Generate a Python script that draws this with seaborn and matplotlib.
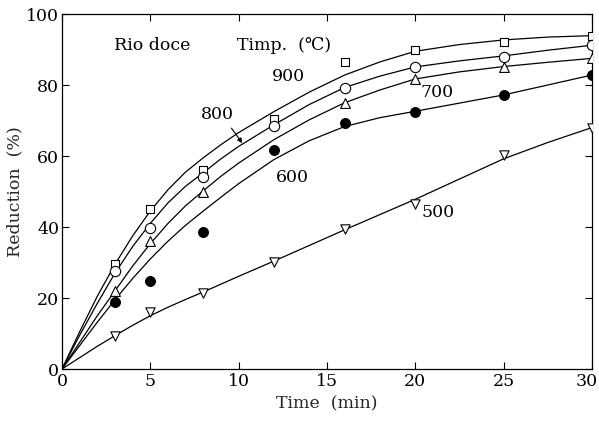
import matplotlib
matplotlib.use("Agg")
import matplotlib.pyplot as plt
import matplotlib.transforms as mtransforms
import seaborn as sns
import pandas as pd

# ---- measured points ----
t_pts = [3, 5, 8, 12, 16, 20, 25, 30]
t_pts_700 = [3, 5, 8, 16, 20, 25, 30]
pts_900 = [29.5, 45.0, 56.0, 70.3, 86.5, 89.8, 92.2, 93.8]
pts_800 = [27.5, 39.8, 54.2, 68.5, 79.3, 85.1, 88.0, 91.2]
pts_700 = [22.0, 36.2, 49.9, 75.0, 81.7, 85.2, 87.5]
pts_600 = [18.8, 24.9, 38.7, 61.7, 69.4, 72.5, 77.2, 82.8]
pts_500 = [9.4, 16.0, 21.3, 30.2, 39.3, 46.5, 60.3, 67.8]

# ---- fitted curves ----
t_curve = [0, 1, 2, 3, 4, 5, 6, 7, 8, 9, 10, 12, 14, 16, 18, 20, 22.5, 25, 27.5, 30]
curve_900 = [0, 10.5, 20.5, 29.5, 37.5, 44.5, 50.5, 55.5, 59.5, 63.2, 66.6,
             72.5, 78, 82.8, 86.5, 89.5, 91.4, 92.7, 93.5, 93.9]
curve_800 = [0, 9.5, 18.5, 27, 34.5, 41, 46.8, 51.5, 55.3, 59.2, 62.7,
             68.8, 74.5, 79.3, 82.5, 85.1, 86.8, 88.2, 89.8, 91.2]
curve_700 = [0, 7.5, 15, 22, 29, 35.3, 41, 46, 50.2, 54.3, 58,
             64.6, 70.2, 75, 78.6, 81.7, 83.7, 85.2, 86.4, 87.5]
curve_600 = [0, 6.6, 13.2, 19.5, 25.5, 31, 36, 40.5, 44.5, 48.4, 52.2,
             59, 64.3, 68.3, 70.8, 72.6, 74.9, 77.2, 80, 82.8]
curve_500 = [0, 3.2, 6.4, 9.4, 12.3, 15, 17.4, 19.6, 21.7, 23.9, 26.1,
             30.4, 34.8, 39.2, 43.5, 47.8, 53.5, 59.2, 63.8, 68]

temps = ["900", "800", "700", "600", "500"]
x_ticks = [0, 5, 10, 15, 20, 25, 30]
y_ticks = [0, 20, 40, 60, 80, 100]

sns.set_style("ticks")
plt.rcParams["font.family"] = ["DejaVu Serif"]

fig = plt.figure(figsize=(5.99, 4.21), dpi=100)
ax = fig.add_axes([0.1035, 0.1235, 0.8845, 0.8432])

curves = {"900": curve_900, "800": curve_800, "700": curve_700,
          "600": curve_600, "500": curve_500}
for k in temps:
    df = pd.DataFrame({"t": t_curve, "r": curves[k]})
    sns.lineplot(data=df, x="t", y="r", ax=ax, color="black", lw=0.9,
                 estimator=None, sort=False)

point_sets = [
    (t_pts, pts_900, "s", "white", 36),
    (t_pts, pts_800, "o", "white", 55),
    (t_pts_700, pts_700, "^", "white", 50),
    (t_pts, pts_600, "o", "black", 50),
    (t_pts, pts_500, "v", "white", 45),
]
for xs, ys, m, fc, s in point_sets:
    df = pd.DataFrame({"t": xs, "r": ys})
    sns.scatterplot(data=df, x="t", y="r", ax=ax, marker=m, s=s,
                    facecolor=fc, edgecolor="black", linewidth=0.8, zorder=3)

fs = 12.5
ax.set_xlim(0, 30)
ax.set_ylim(0, 100)
ax.set_xticks(x_ticks)
ax.set_yticks(y_ticks)
ax.tick_params(direction="in", top=True, right=True, length=5, width=0.8,
               labelsize=fs, colors="black")
ax.tick_params(axis="x", pad=3)
ax.tick_params(axis="y", pad=2)
for sp in ax.spines.values():
    sp.set_linewidth(0.9)
    sp.set_color("black")
ax.set_xlabel("Time  (min)", fontsize=fs, labelpad=4)
ax.set_ylabel("Reduction  (%)", fontsize=fs, labelpad=2)

# keep the last x tick label inside the figure edge
last = ax.get_xticklabels()[-1]
last.set_transform(last.get_transform() +
                   mtransforms.ScaledTranslation(-5 / 100, 0, fig.dpi_scale_trans))

txt = dict(fontsize=fs, color="black", ha="center", va="center")
ax.text(5.1, 91, "Rio doce", **txt)
ax.text(12.55, 91, "Timp.  (℃)", **txt)
ax.text(12.8, 82.5, "900", **txt)
ax.text(8.8, 71.7, "800", **txt)
ax.text(21.25, 77.9, "700", **txt)
ax.text(13.05, 53.9, "600", **txt)
ax.text(21.3, 44.0, "500", **txt)
ax.annotate("", xy=(10.3, 63.0), xytext=(9.5, 68.5),
            arrowprops=dict(arrowstyle="-|>", color="black", lw=0.8,
                            mutation_scale=7))

fig.savefig("out.png", dpi=100)
